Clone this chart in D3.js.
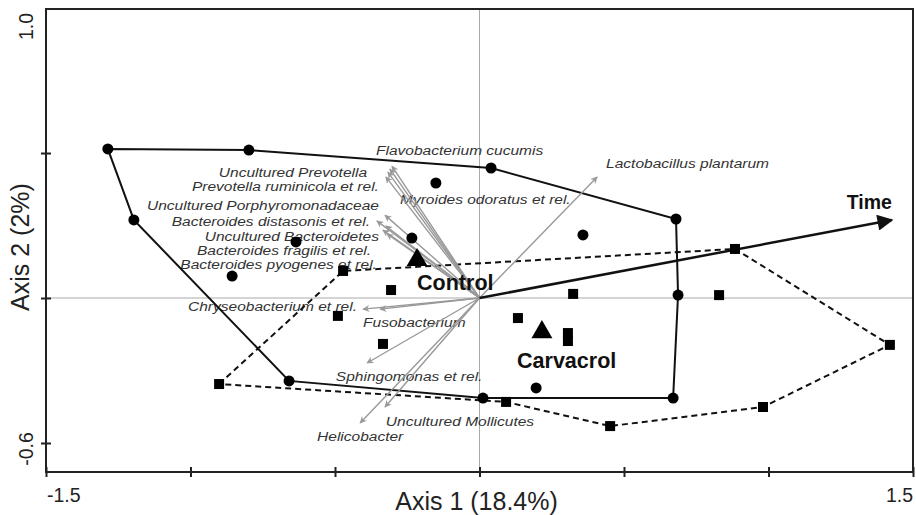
<!DOCTYPE html>
<html>
<head>
<meta charset="utf-8">
<script src="https://cdn.jsdelivr.net/npm/d3@7"></script>
<style>
  body { margin: 0; background: #fff; }
  svg { display: block; font-family: Arial, "Liberation Sans", sans-serif; }
</style>
</head>
<body>
<svg id="chart" width="916" height="515"></svg>
<script>
// ---- data (axis units) ----
let xDomain = [-1.5, 1.5];
let yDomain = [-0.72, 1.196];
let xTicks = [-1.5, -1.0, -0.5, 0, 0.5, 1.0, 1.5];
let yTicks = [-0.6, 0, 0.6];
let xTickLabels = ["-1.5", "1.5"];
let yTickLabels = ["-0.6", "1.0"];

// Control samples (circles), hull in drawing order
let controlHull = [
  [-1.286, 0.617], [-0.798, 0.612], [0.040, 0.538], [0.680, 0.327],
  [0.687, 0.012], [0.670, -0.414], [0.012, -0.414], [-0.659, -0.343],
  [-1.196, 0.323]
];
let controlInner = [
  [-0.151, 0.476], [0.358, 0.261], [-0.234, 0.248],
  [-0.635, 0.232], [-0.856, 0.091], [0.196, -0.372]
];

// Carvacrol samples (squares), hull in drawing order
let carvacrolHull = [
  [-0.901, -0.356], [-0.472, 0.112], [0.884, 0.203], [1.420, -0.194],
  [0.981, -0.451], [0.452, -0.530], [0.092, -0.430]
];
let carvacrolInner = [
  [-0.306, 0.033], [-0.490, -0.074], [-0.334, -0.190], [0.133, -0.083],
  [0.324, 0.017], [0.829, 0.012], [0.306, -0.145], [0.306, -0.178]
];

// group centroids
let centroids = [
  {name: "Control", x: -0.216, y: 0.157},
  {name: "Carvacrol", x: 0.216, y: -0.141}
];

// explanatory variable
let timeVector = {name: "Time", x: 1.427, y: 0.323};

// species arrows: tip and where the name sits
let speciesNames = [
  "Flavobacterium cucumis", "Myroides odoratus et rel.", "Uncultured Prevotella",
  "Prevotella ruminicola et rel.", "Uncultured Porphyromonadaceae",
  "Bacteroides distasonis et rel.", "Uncultured Bacteroidetes",
  "Bacteroides fragilis et rel.", "Bacteroides pyogenes et rel.",
  "Chryseobacterium et rel.", "Fusobacterium", "Sphingomonas et rel.",
  "Uncultured Mollicutes", "Helicobacter", "Lactobacillus plantarum"
];
let speciesX = [-0.303, -0.310, -0.317, -0.324, -0.327, -0.355, -0.324, -0.334, -0.320,
                -0.403, -0.344, -0.389, -0.327, -0.413, 0.407];
let speciesY = [0.546, 0.534, 0.521, 0.501, 0.343, 0.319, 0.298, 0.281, 0.265,
                -0.046, -0.046, -0.269, -0.451, -0.517, 0.501];
let labelX = [-0.358, -0.275, -0.389, -0.348, -0.348, -0.379, -0.348, -0.375, -0.355,
              -0.424, -0.403, -0.497, -0.324, -0.562, 0.438];
let labelY = [0.592, 0.389, 0.501, 0.443, 0.364, 0.298, 0.236, 0.178, 0.120,
              -0.054, -0.120, -0.343, -0.530, -0.592, 0.538];
let labelSide = ["start", "start", "end", "end", "end", "end", "end", "end", "end",
                 "end", "start", "start", "start", "start", "start"];

// where the bold group names sit
let groupLabels = [
  {text: "Control", x: -0.216, y: 0.033},
  {text: "Carvacrol", x: 0.130, y: -0.290}
];

function drawChart(svgId) {
  let margin = ({top: 9, right: 3, bottom: 43, left: 46});
  let width = 916, height = 515;

  let svg = d3.select(svgId);

  let x = d3.scaleLinear().domain(xDomain).range([margin.left, width - margin.right]);
  let y = d3.scaleLinear().domain(yDomain).range([height - margin.bottom, margin.top]);

  let defs = svg.append("defs");
  defs.append("marker")
    .attr("id", "headGrey")
    .attr("viewBox", "0 0 10 10")
    .attr("refX", 9).attr("refY", 5)
    .attr("markerUnits", "userSpaceOnUse")
    .attr("markerWidth", 9).attr("markerHeight", 7)
    .attr("orient", "auto")
    .append("path")
    .attr("d", "M0,0 L10,5 L0,10 L3,5 Z")
    .attr("fill", "#999");
  defs.append("marker")
    .attr("id", "headBlack")
    .attr("viewBox", "0 0 10 10")
    .attr("refX", 9).attr("refY", 5)
    .attr("markerUnits", "userSpaceOnUse")
    .attr("markerWidth", 25).attr("markerHeight", 16)
    .attr("orient", "auto")
    .append("path")
    .attr("d", "M0,0 L10,5 L0,10 Z")
    .attr("fill", "#111");

  // zero lines
  svg.append("line")
    .attr("x1", x(0)).attr("x2", x(0))
    .attr("y1", y(yDomain[1])).attr("y2", y(yDomain[0]))
    .attr("stroke", "#aaa").attr("stroke-width", 1);
  svg.append("line")
    .attr("x1", x(xDomain[0])).attr("x2", x(xDomain[1]))
    .attr("y1", y(0)).attr("y2", y(0))
    .attr("stroke", "#aaa").attr("stroke-width", 1);

  let line = d3.line().x(d => x(d[0])).y(d => y(d[1])).curve(d3.curveLinearClosed);

  // species labels (under the lines like in the original)
  let labels = svg.append("g");
  speciesNames.forEach(function(name, i) {
    labels.append("text")
      .attr("transform", "translate(" + x(labelX[i]) + "," + y(labelY[i]) + ") scale(1.15,1)")
      .attr("text-anchor", labelSide[i])
      .style("font-style", "italic")
      .style("font-size", "13.5px")
      .style("fill", "#333")
      .text(name);
  });

  // hulls
  svg.append("path")
    .attr("d", line(controlHull))
    .attr("fill", "none")
    .attr("stroke", "#111")
    .attr("stroke-width", 2);
  svg.append("path")
    .attr("d", line(carvacrolHull))
    .attr("fill", "none")
    .attr("stroke", "#111")
    .attr("stroke-width", 2)
    .attr("stroke-dasharray", "6,4");

  // species arrows
  svg.append("g")
    .selectAll("line")
    .data(speciesNames)
    .enter()
    .append("line")
    .attr("x1", x(0)).attr("y1", y(0))
    .attr("x2", (d, i) => x(speciesX[i]))
    .attr("y2", (d, i) => y(speciesY[i]))
    .attr("stroke", "#999")
    .attr("stroke-width", 1.4)
    .attr("marker-end", "url(#headGrey)");

  // time vector
  svg.append("line")
    .attr("x1", x(0)).attr("y1", y(0))
    .attr("x2", x(timeVector.x)).attr("y2", y(timeVector.y))
    .attr("stroke", "#111")
    .attr("stroke-width", 2.5)
    .attr("marker-end", "url(#headBlack)");

  // sample points
  svg.append("g")
    .selectAll("circle")
    .data(controlHull.concat(controlInner))
    .enter()
    .append("circle")
    .attr("cx", d => x(d[0]))
    .attr("cy", d => y(d[1]))
    .attr("r", 5.5)
    .attr("fill", "#000");

  svg.append("g")
    .selectAll("rect")
    .data(carvacrolHull.concat(carvacrolInner))
    .enter()
    .append("rect")
    .attr("x", d => x(d[0]) - 5)
    .attr("y", d => y(d[1]) - 5)
    .attr("width", 10)
    .attr("height", 10)
    .attr("fill", "#000");

  svg.append("g")
    .selectAll("path")
    .data(centroids)
    .enter()
    .append("path")
    .attr("d", d3.symbol().type(d3.symbolTriangle).size(190))
    .attr("transform", d => "translate(" + x(d.x) + "," + y(d.y) + ")")
    .attr("fill", "#000");

  // bold labels
  svg.append("g")
    .selectAll("text")
    .data(groupLabels)
    .enter()
    .append("text")
    .attr("x", d => x(d.x))
    .attr("y", d => y(d.y))
    .style("font-weight", "bold")
    .style("font-size", "21.5px")
    .style("fill", "#111")
    .text(d => d.text);

  svg.append("text")
    .attr("x", x(timeVector.x))
    .attr("y", y(timeVector.y) - 11)
    .attr("text-anchor", "end")
    .style("font-weight", "bold")
    .style("font-size", "19.5px")
    .style("fill", "#111")
    .text(timeVector.name);

  // frame
  svg.append("rect")
    .attr("x", x(xDomain[0])).attr("y", y(yDomain[1]))
    .attr("width", x(xDomain[1]) - x(xDomain[0]))
    .attr("height", y(yDomain[0]) - y(yDomain[1]))
    .attr("fill", "none")
    .attr("stroke", "#222")
    .attr("stroke-width", 2);

  // ticks crossing the axis lines
  let xAxis = d3.axisBottom(x).tickValues(xTicks).tickSize(10).tickFormat("");
  let gx = svg.append("g")
    .attr("transform", "translate(0," + (y(yDomain[0]) - 5) + ")")
    .call(xAxis);
  gx.select(".domain").remove();
  gx.selectAll("line").attr("stroke", "#222").attr("stroke-width", 2);

  let yAxis = d3.axisLeft(y).tickValues(yTicks).tickSize(10).tickFormat("");
  let gy = svg.append("g")
    .attr("transform", "translate(" + (x(xDomain[0]) + 5) + ",0)")
    .call(yAxis);
  gy.select(".domain").remove();
  gy.selectAll("line").attr("stroke", "#222").attr("stroke-width", 2);

  // end labels
  svg.append("text")
    .attr("x", x(xDomain[0]) + 1)
    .attr("y", y(yDomain[0]) + 30)
    .style("font-size", "19.5px")
    .style("fill", "#222")
    .text(xTickLabels[0]);
  svg.append("text")
    .attr("x", x(xDomain[1]))
    .attr("y", y(yDomain[0]) + 30)
    .attr("text-anchor", "end")
    .style("font-size", "19.5px")
    .style("fill", "#222")
    .text(xTickLabels[1]);
  svg.append("text")
    .attr("transform", "translate(33," + (y(yTicks[0]) + 6) + ") rotate(-90)")
    .attr("text-anchor", "middle")
    .style("font-size", "19.5px")
    .style("fill", "#222")
    .text(yTickLabels[0]);
  svg.append("text")
    .attr("transform", "translate(33," + (y(yDomain[1]) + 4) + ") rotate(-90)")
    .attr("text-anchor", "end")
    .style("font-size", "19.5px")
    .style("fill", "#222")
    .text(yTickLabels[1]);

  // axis titles
  svg.append("text")
    .attr("x", x(0) - 3)
    .attr("y", 510)
    .attr("text-anchor", "middle")
    .style("font-size", "25px")
    .style("fill", "#222")
    .text("Axis 1 (18.4%)");
  svg.append("text")
    .attr("transform", "translate(29,247) rotate(-90)")
    .attr("text-anchor", "middle")
    .style("font-size", "25px")
    .style("fill", "#222")
    .text("Axis 2 (2%)");
}

drawChart("#chart");
</script>
</body>
</html>
